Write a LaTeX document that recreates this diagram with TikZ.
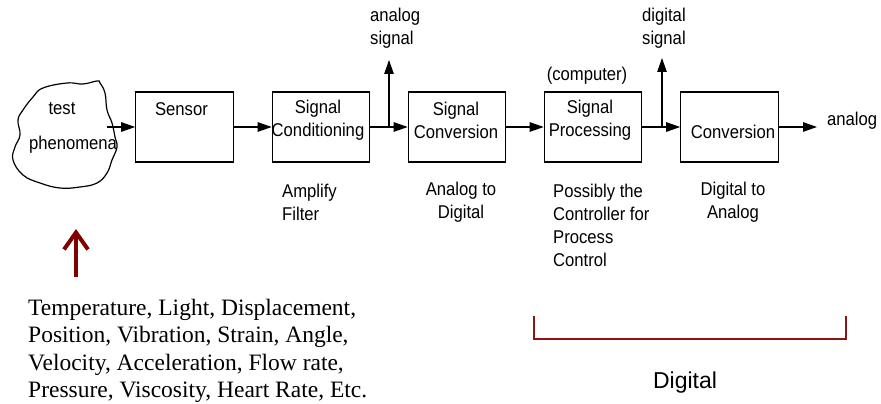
\documentclass[tikz,border=0pt]{standalone}
\usepackage{fontspec}
\setmainfont{Liberation Sans}[FakeStretch=0.9]
\newfontfamily\timesfont{Liberation Serif}
\newfontfamily\plainsans{Liberation Sans}
\usetikzlibrary{arrows.meta,positioning,calc}
\definecolor{darkred}{HTML}{800000}
\definecolor{bracketred}{HTML}{8B1414}

\begin{document}
\begin{tikzpicture}[x=1pt,y=-1pt]
% blocks, labels and signal arrows
\tikzset{blockbox/.style={draw, line width=1.1pt, minimum width=97.5pt, minimum height=70pt, inner sep=0pt}}
\tikzset{lbl/.style={font=\fontsize{18.5}{23}\selectfont, inner sep=0pt, align=center}}
\tikzset{sig/.style={line width=1.1pt, -{Triangle[length=14pt,width=9.5pt]}}}
\useasboundingbox (0,0) rectangle (881,404);

% test phenomena cloud
\draw[line width=1.2pt] plot[smooth cycle, tension=0.7] coordinates {(33,97) (43,88) (67,83) (83,84) (97,81) (100,83) (105,93) (107,110) (112,123) (115,137) (117,147) (112,160) (107,173) (97,183) (80,187) (60,188) (40,183) (23,175) (13,160) (15,147) (20,135) (18,120) (23,110)};
\node[lbl] (testtxt) at (62,109) {test};
\node[lbl] (phentxt) at (73,145) {phenomena};

\node[blockbox] (sensor) at (184.5,127) {};
\node[blockbox] (cond) at (321,127) {};
\node[blockbox] (adc) at (457,127) {};
\node[blockbox] (proc) at (593,127) {};
\node[blockbox] (dac) at (729.5,127) {};

\node[lbl] (sensortxt) at (181.5,109) {Sensor};
\node[lbl] (condtxt) at (318,120.5) {Signal\\Conditioning};
\node[lbl] (adctxt) at (456,120.5) {Signal\\Conversion};
\node[lbl] (proctxt) at (590,120.5) {Signal\\Processing};
\node[lbl] (dactxt) at (733,132) {Conversion};
\node[lbl] (comptxt) at (587,76) {(computer)};

\node[lbl, align=left, anchor=west] (atxt) at (370,28.5) {analog\\signal};
\node[lbl, align=left, anchor=west] (dtxt) at (642,28.5) {digital\\signal};
\node[lbl, anchor=west] (outtxt) at (827,121) {analog};

% notes below the blocks
\node[lbl, align=left, anchor=west] (condnote) at (282,202.5) {Amplify\\Filter};
\node[lbl] (adcnote) at (461,202) {Analog to\\Digital};
\node[lbl, align=left, anchor=west] (procnote) at (553,225) {Possibly the\\Controller for\\Process\\Control};
\node[lbl] (dacnote) at (733,202) {Digital to\\Analog};

\coordinate (cloudout) at (107,127);
\coordinate (asplit) at (389,127);
\coordinate (aup) at (389,60);
\coordinate (dsplit) at (662,127);
\coordinate (dup) at (662,58);
\coordinate (aout) at (817,127);

\draw[sig] (cloudout) -- (sensor.west);
\draw[sig] (sensor.east) -- (cond.west);
\draw[sig] (cond.east) -- (adc.west);
\draw[sig] (asplit) -- (aup);
\draw[sig] (adc.east) -- (proc.west);
\draw[sig] (proc.east) -- (dac.west);
\draw[sig] (dsplit) -- (dup);
\draw[sig] (dac.east) -- (aout);

% measured quantities
\coordinate (redtail) at (76,277);
\coordinate (redtip) at (76,229);
\draw[darkred, line width=4pt, -{Straight Barb[length=17pt,width=24pt]}] (redtail) -- (redtip);
\node[font=\timesfont\fontsize{23.5}{27.3}\selectfont, align=left, anchor=west, inner sep=0pt] (quantities) at (28,351) {Temperature, Light, Displacement,\\Position, Vibration, Strain, Angle,\\Velocity, Acceleration, Flow rate,\\Pressure, Viscosity, Heart Rate, Etc.};

% digital part
\draw[bracketred, line width=2.5pt] (534,316) -- (534,339) -- (846,339) -- (846,316);
\node[font=\plainsans\fontsize{23}{27}\selectfont, inner sep=0pt] (digtxt) at (685,383) {Digital};
\end{tikzpicture}
\end{document}
